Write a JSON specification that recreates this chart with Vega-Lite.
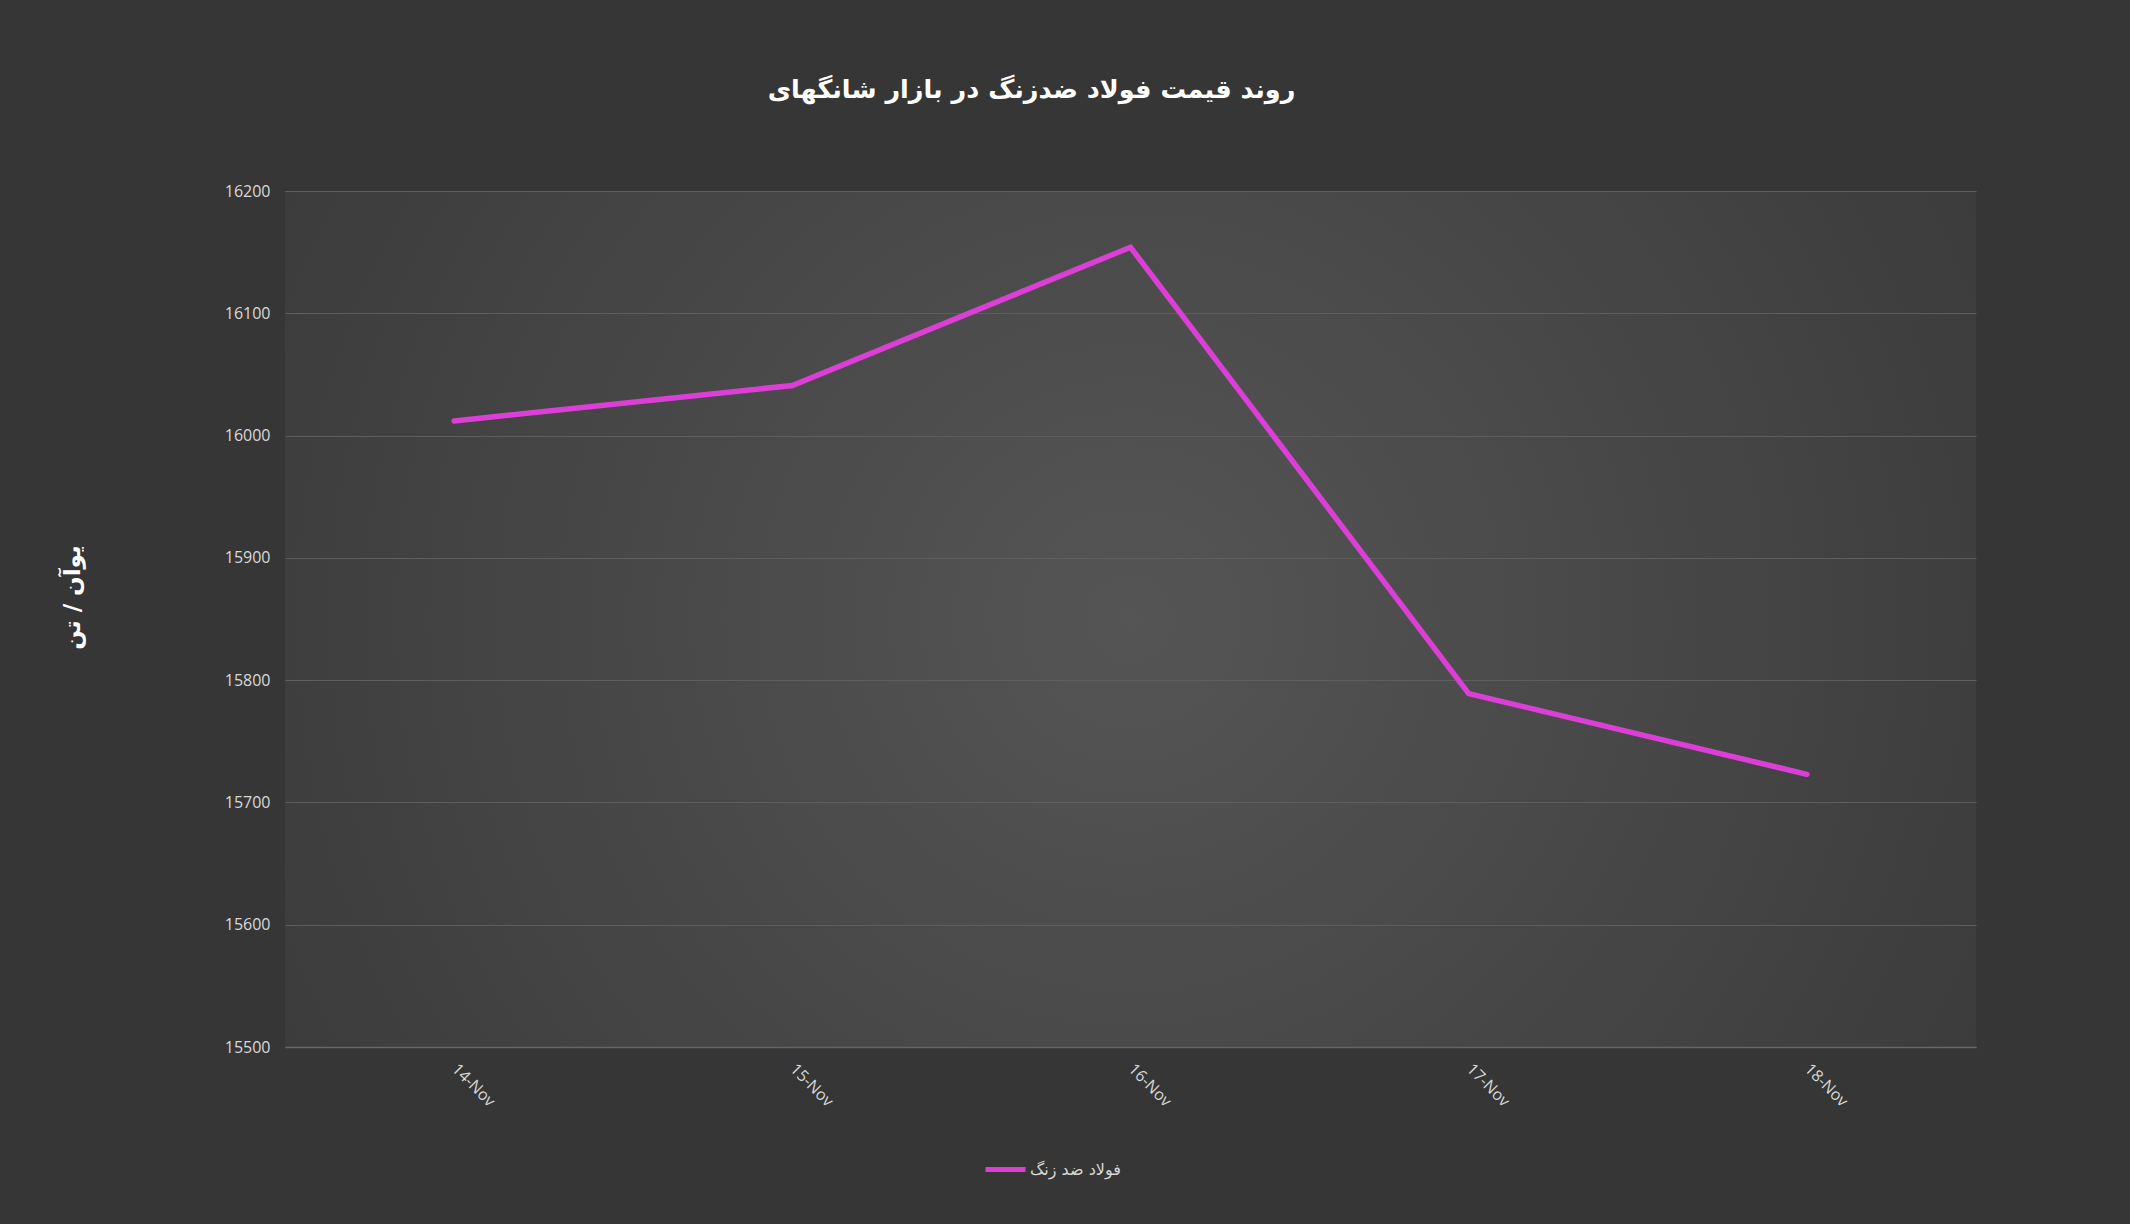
{
  "$schema": "https://vega.github.io/schema/vega-lite/v6.json",
  "autosize": {"type": "none"},
  "width": 1691,
  "height": 856,
  "padding": {"left": 285, "top": 191, "right": 154, "bottom": 177},
  "background": "#363636",
  "title": {
    "text": "روند قیمت فولاد ضدزنگ در بازار شانگهای",
    "font": "DejaVu Sans",
    "fontSize": 25.5,
    "fontWeight": "bold",
    "color": "#ffffff",
    "anchor": "middle",
    "frame": "group",
    "dx": -99,
    "offset": 80
  },
  "config": {
    "view": {
      "stroke": null,
      "fill": {
        "gradient": "radial",
        "x1": 0.5, "y1": 0.5, "r1": 0,
        "x2": 0.5, "y2": 0.5, "r2": 0.6,
        "stops": [
          {"offset": 0, "color": "#555555"},
          {"offset": 1, "color": "#3a3a3a"}
        ]
      }
    },
    "font": "Liberation Sans"
  },
  "data": {
    "values": [
      {"date": "14-Nov", "price": 16012, "series": "فولاد ضد زنگ"},
      {"date": "15-Nov", "price": 16041, "series": "فولاد ضد زنگ"},
      {"date": "16-Nov", "price": 16154, "series": "فولاد ضد زنگ"},
      {"date": "17-Nov", "price": 15789, "series": "فولاد ضد زنگ"},
      {"date": "18-Nov", "price": 15723, "series": "فولاد ضد زنگ"}
    ]
  },
  "mark": {"type": "line", "strokeWidth": 5.5, "strokeCap": "round", "strokeJoin": "miter"},
  "encoding": {
    "x": {
      "field": "date",
      "type": "ordinal",
      "sort": null,
      "scale": {"type": "point", "padding": 0.5},
      "axis": {
        "title": null,
        "labelAngle": 45,
        "labelAlign": "left",
        "labelBaseline": "middle",
        "labelPadding": 19,
        "labelFont": "Open Sans",
        "labelFontSize": 16,
        "labelColor": "#d9d9d9",
        "domainColor": "#666666",
        "domainWidth": 1.5,
        "ticks": false,
        "grid": false
      }
    },
    "y": {
      "field": "price",
      "type": "quantitative",
      "scale": {"domain": [15500, 16200], "zero": false, "nice": false},
      "axis": {
        "values": [15500, 15600, 15700, 15800, 15900, 16000, 16100, 16200],
        "format": "d",
        "title": "یوآن / تن",
        "titleFont": "DejaVu Sans",
        "titleFontSize": 23,
        "titleFontWeight": "bold",
        "titleColor": "#ffffff",
        "titleAngle": -90,
        "titleX": -213,
        "titleY": 406,
        "titleAlign": "center",
        "titleBaseline": "middle",
        "labelFont": "Open Sans",
        "labelFontSize": 16,
        "labelColor": "#d9d9d9",
        "labelPadding": 15,
        "domain": false,
        "ticks": false,
        "gridColor": "#5e5e5e",
        "gridWidth": 1.2
      }
    },
    "color": {
      "field": "series",
      "type": "nominal",
      "scale": {"range": ["#dc3fd6"]},
      "legend": {
        "title": null,
        "orient": "none",
        "legendX": 698,
        "legendY": 956,
        "symbolType": "stroke",
        "symbolStrokeWidth": 5,
        "symbolSize": 1600,
        "labelFont": "DejaVu Sans",
        "labelFontSize": 16,
        "labelColor": "#d9d9d9",
        "labelOffset": 2
      }
    }
  }
}
